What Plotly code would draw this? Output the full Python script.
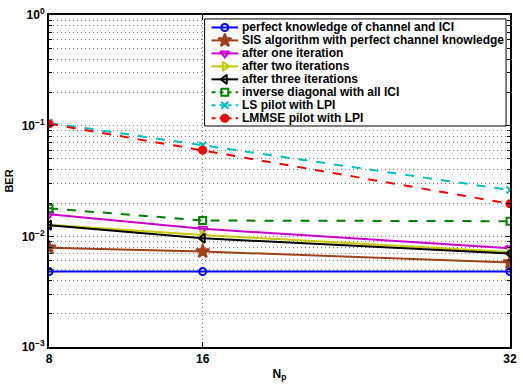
import plotly.graph_objects as go

Np = [8, 16, 32]
perfect = [0.0048, 0.0048, 0.0048]
sis = [0.0079, 0.0073, 0.0058]
iter1 = [0.0158, 0.0117, 0.0078]
iter2 = [0.0127, 0.0103, 0.0072]
iter3 = [0.0126, 0.0096, 0.0070]
invdiag = [0.0179, 0.0139, 0.0137]
ls_lpi = [0.106, 0.0665, 0.0262]
lmmse_lpi = [0.104, 0.060, 0.0197]

names = ["perfect knowledge of channel and ICI",
         "SIS algorithm with perfect channel knowledge",
         "after one iteration",
         "after two iterations",
         "after three iterations",
         "inverse diagonal with all ICI",
         "LS pilot with LPI",
         "LMMSE pilot with LPI"]
series = [perfect, sis, iter1, iter2, iter3, invdiag, ls_lpi, lmmse_lpi]
colors = ["#0000ff", "#a0401a", "#cc00cc", "#c8c800", "#000000", "#008000", "#00bfbf", "#ff0000"]
symbols = ["circle-open", "star", "triangle-down-open", "triangle-right-open",
           "triangle-left-open", "square-open", "x-thin-open", "circle"]
sizes = [7, 10, 8, 8, 8, 7, 7, 7]
dashes = ["solid"] * 5 + ["dash"] * 3

# plot-area geometry in pixels (used for the overlay legend axes)
W, H = 523, 385
ML, MR, MT, MB = 49, 6, 9, 38
PX0, PX1 = ML, W - MR
PY0, PY1 = MT, H - MB

fig = go.Figure()
for n, s, c, sym, sz, d in zip(names, series, colors, symbols, sizes, dashes):
    fig.add_trace(go.Scatter(
        x=Np, y=s, name=n, mode="lines+markers", showlegend=False,
        line=dict(color=c, width=2, dash=d),
        marker=dict(symbol=sym, size=sz, color=c, line=dict(color=c, width=2)),
    ))

# custom compact legend (MATLAB-like) drawn on an overlay pixel-coordinate axis
LB_X0, LB_X1, LB_Y0, LB_Y1 = 207, 513, 13, 122
ROW0, ROWSTEP = 21.7, 13.2
SAMP_X0, SAMP_X1, TEXT_X = 214, 241, 243
fig.add_trace(go.Scatter(
    x=[LB_X0, LB_X1, LB_X1, LB_X0, LB_X0], y=[LB_Y0, LB_Y0, LB_Y1, LB_Y1, LB_Y0],
    xaxis="x2", yaxis="y2", mode="lines", fill="toself", fillcolor="white",
    line=dict(color="black", width=1), showlegend=False, hoverinfo="skip"))
annotations = []
for i, (n, c, sym, sz, d) in enumerate(zip(names, colors, symbols, sizes, dashes)):
    ry = ROW0 + i * ROWSTEP
    fig.add_trace(go.Scatter(
        x=[SAMP_X0, SAMP_X1], y=[ry, ry], xaxis="x2", yaxis="y2", mode="lines",
        line=dict(color=c, width=2, dash="4px,4px" if d == "dash" else "solid"),
        showlegend=False, hoverinfo="skip"))
    fig.add_trace(go.Scatter(
        x=[(SAMP_X0 + SAMP_X1) / 2], y=[ry], xaxis="x2", yaxis="y2", mode="markers",
        marker=dict(symbol=sym, size=sz, color=c, line=dict(color=c, width=2)),
        showlegend=False, hoverinfo="skip"))
    annotations.append(dict(
        x=TEXT_X, y=ry, xref="x2", yref="y2", text="<b>%s</b>" % n, showarrow=False,
        xanchor="left", yanchor="middle",
        font=dict(family="Liberation Sans, Arial", size=12, color="black")))

minor_vals = [m * 10.0 ** e for e in (-3, -2, -1) for m in range(2, 10)]
tickfont = dict(family="Liberation Sans, Arial", size=12, color="black", weight="bold")
gridc = "#7a7a7a"
gdash = "1px,3px"

fig.update_layout(
    width=W, height=H,
    margin=dict(l=ML, r=MR, t=MT, b=MB),
    paper_bgcolor="white", plot_bgcolor="white",
    font=dict(family="Liberation Sans, Arial", size=11, color="black"),
    showlegend=False,
    annotations=annotations,
    xaxis=dict(
        range=[8, 32], tickvals=[8, 16, 32], ticktext=["8", "16", "32"],
        showgrid=True, gridcolor=gridc, griddash=gdash, gridwidth=1,
        showline=True, linecolor="black", linewidth=2, mirror="allticks",
        ticks="inside", ticklen=5, tickcolor="black", tickfont=tickfont,
        title=dict(text="<b>N<sub>p</sub></b>", font=dict(size=12), standoff=4),
        zeroline=False,
    ),
    yaxis=dict(
        type="log", range=[-3, 0],
        tickvals=[0.001, 0.01, 0.1, 1],
        ticktext=["10<sup>−3</sup>", "10<sup>−2</sup>", "10<sup>−1</sup>", "10<sup>0</sup>"],
        showgrid=True, gridcolor=gridc, griddash=gdash, gridwidth=1,
        showline=True, linecolor="black", linewidth=2, mirror="allticks",
        ticks="inside", ticklen=5, tickcolor="black", tickfont=tickfont,
        minor=dict(tickvals=minor_vals, showgrid=True, gridcolor=gridc,
                   griddash=gdash, gridwidth=1, ticks="inside", ticklen=3, tickcolor="black"),
        title=dict(text="<b>BER</b>", font=dict(size=11), standoff=6),
        zeroline=False,
    ),
    xaxis2=dict(overlaying="x", range=[PX0, PX1], visible=False, fixedrange=True),
    yaxis2=dict(overlaying="y", range=[PY1, PY0], visible=False, fixedrange=True),
)

fig.write_html("out.html")
